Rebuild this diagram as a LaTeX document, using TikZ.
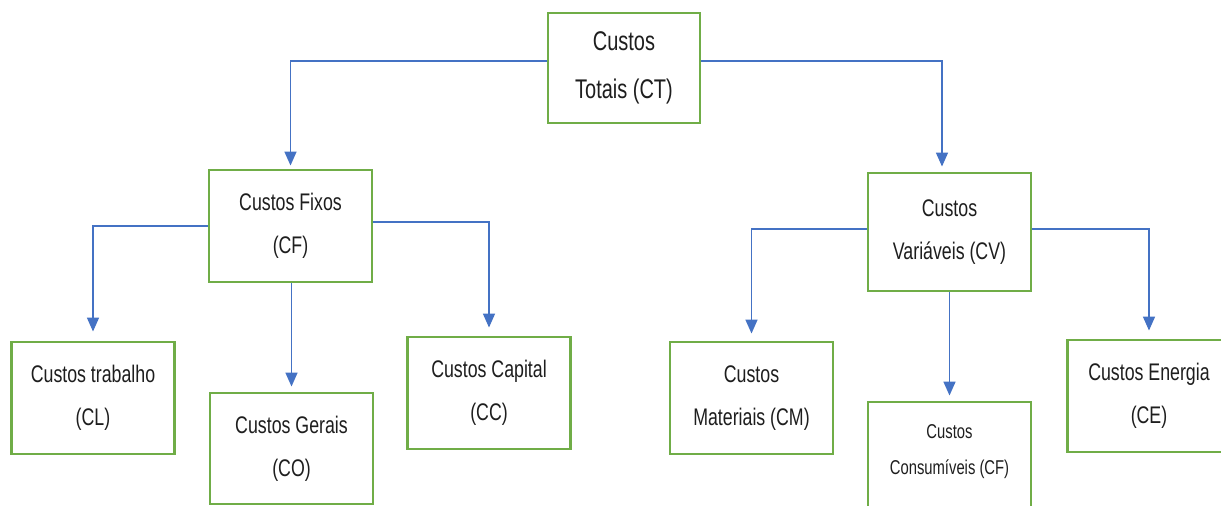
\documentclass[tikz,border=0pt]{standalone}
\usepackage{fontspec}
\newfontfamily\boxfont[FakeStretch=0.74]{Liberation Sans}
\definecolor{boxgreen}{RGB}{112, 173, 71}
\definecolor{linkblue}{RGB}{68, 114, 196}
\definecolor{textgray}{RGB}{30, 30, 30}
\usetikzlibrary{arrows.meta, positioning}
\tikzset{
	custo/.style={rectangle, draw=boxgreen, fill=white, line width=2.9pt, align=center, minimum width=163pt, minimum height=112pt, text=textgray, font=\boxfont\fontsize{24}{43}\selectfont},
	custobig/.style={custo, minimum width=152pt, minimum height=110pt, font=\boxfont\fontsize{27}{48}\selectfont},
	custosmall/.style={custo, minimum height=118pt, font=\boxfont\fontsize{20}{36}\selectfont},
	arrow/.style={-{Triangle[length=14pt, width=12pt]}, line width=1.6pt, draw=linkblue, shorten >=5pt},
}

\begin{document}
\begin{tikzpicture}[x=1pt, y=-1pt]
		\clip (0,0) rectangle (1221,506);
		\node[custobig] (ct) at (624,68) {Custos\\Totais (CT)};
		\node[custo] (cf) at (290.5,226) {Custos Fixos\\(CF)};
		\node[custo, minimum height=118pt] (cv) at (949.5,232) {Custos\\Variáveis (CV)};
		\node[custo] (cl) at (93,398) {Custos trabalho\\(CL)};
		\node[custo, minimum height=111pt] (co) at (291.5,448.5) {Custos Gerais\\(CO)};
		\node[custo] (cc) at (489,393) {Custos Capital\\(CC)};
		\node[custo] (cm) at (751.5,398) {Custos\\Materiais (CM)};
		\node[custosmall] (cn) at (949.5,461) {Custos\\Consumíveis (CF)\\[-14pt]\mbox{}};
		\node[custo] (ce) at (1149,396) {Custos Energia\\(CE)};
		% ligacoes
		\draw[arrow, shorten >=3pt] ([yshift=7pt]ct.west) -| (cf);
		\draw[arrow] ([yshift=7pt]ct.east) -| ([xshift=-7.5pt]cv.north);
		\draw[arrow, shorten >=9pt] (cf.west) -| (cl);
		\draw[arrow, shorten >=8pt] ([yshift=4pt]cf.east) -| (cc);
		\draw[arrow] (co |- cf.south) -- (co);
		\draw[arrow, shorten >=7pt] ([yshift=3pt]cv.west) -| (cm);
		\draw[arrow] (cn |- cv.south) -- (cn);
		\draw[arrow, shorten >=8pt] ([yshift=3pt]cv.east) -| (ce);
	\end{tikzpicture}
\end{document}
